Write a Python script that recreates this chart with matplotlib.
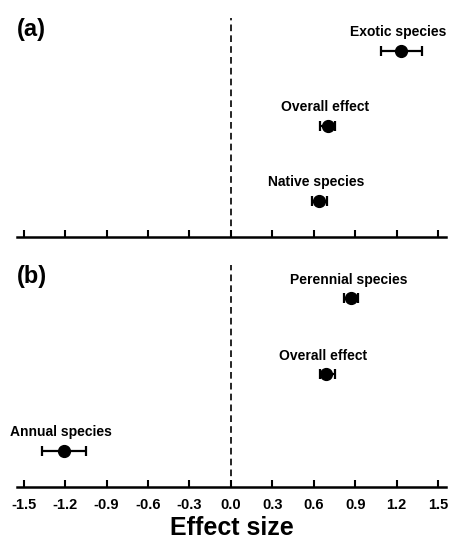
import matplotlib
matplotlib.use('Agg')
import matplotlib.pyplot as plt

plt.rcParams['font.family'] = ['Liberation Sans', 'DejaVu Sans']
plt.rcParams['font.weight'] = 'bold'

# panel (a): exotic / native
labels_a = ['Exotic species', 'Overall effect', 'Native species']
mean_a = [1.23, 0.70, 0.64]
low_a = [1.085, 0.645, 0.59]
high_a = [1.38, 0.75, 0.695]

# panel (b): perennial / annual
labels_b = ['Perennial species', 'Overall effect', 'Annual species']
mean_b = [0.87, 0.69, -1.21]
low_b = [0.82, 0.645, -1.37]
high_b = [0.92, 0.75, -1.05]

xticks = [-1.5, -1.2, -0.9, -0.6, -0.3, 0.0, 0.3, 0.6, 0.9, 1.2, 1.5]
xticklabels = ['%.1f' % t for t in xticks]


def draw_panel(ax, labels, mean, low, high, tag, show_labels):
    ypos = [3, 2, 1]
    err = [[m - l for m, l in zip(mean, low)], [h - m for m, h in zip(mean, high)]]
    ax.errorbar(mean, ypos, xerr=err, fmt='o', color='black', ms=8.5,
                elinewidth=1.6, capsize=3.8, capthick=1.6)
    ax.axvline(0, color='black', lw=1.2, ls=(0, (4, 2.5)))
    for x, y, lab in zip(mean, ypos, labels):
        ax.annotate(lab, (x, y), xytext=(-2, 13.5), textcoords='offset points',
                    ha='center', va='center', fontsize=10, fontweight='bold')
    ax.set_xlim(-1.55, 1.56)
    ax.set_ylim(0.52, 3.44)
    for s in ['top', 'left', 'right']:
        ax.spines[s].set_visible(False)
    ax.spines['bottom'].set_linewidth(1.8)
    ax.set_yticks([])
    ax.set_xticks(xticks)
    ax.tick_params(axis='x', direction='in', length=5, width=1.5, pad=8)
    if show_labels:
        ax.set_xticklabels(xticklabels, fontsize=10.5, fontweight='bold')
    else:
        ax.set_xticklabels([])
    ax.text(0.0, 1.0, tag, transform=ax.transAxes, fontsize=17,
            fontweight='bold', ha='left', va='top')


fig = plt.figure(figsize=(4.51, 5.46), dpi=100)
ax1 = fig.add_axes([0.037, 0.566, 0.953, 0.401])
ax2 = fig.add_axes([0.037, 0.108, 0.953, 0.407])

draw_panel(ax1, labels_a, mean_a, low_a, high_a, '(a)', False)
draw_panel(ax2, labels_b, mean_b, low_b, high_b, '(b)', True)
ax2.set_xlabel('Effect size', fontsize=18, fontweight='bold', labelpad=3)

plt.savefig('out.png', dpi=100)
plt.close()
